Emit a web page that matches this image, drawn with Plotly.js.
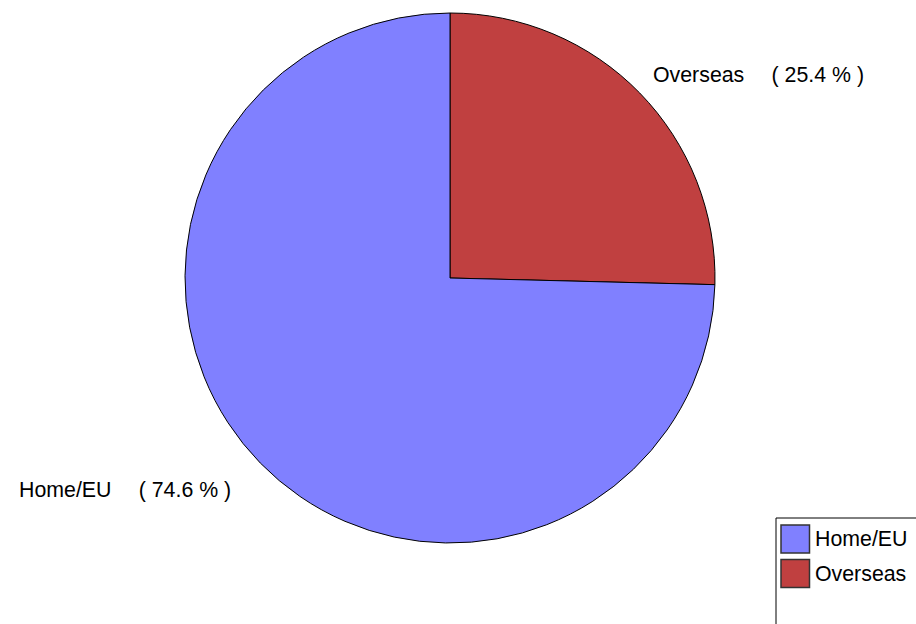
<!DOCTYPE html>
<html>
<head>
<meta charset="utf-8">
<script src="https://cdn.plot.ly/plotly-3.0.1.min.js"></script>
<style>html,body{margin:0;padding:0;background:#fff;}#chart{width:916px;height:624px;}</style>
</head>
<body>
<div id="chart"></div>
<script>
const labels = ['Home/EU', 'Overseas'];
const values = [74.6, 25.4];
const colors = ['#8080FF', '#C04040'];

const W = 916, H = 624;
const px = x => x / W;
const py = y => 1 - y / H;
const FONT = 'Liberation Sans, Arial, sans-serif';
const FS = 21.33;

const total = values.reduce((a, b) => a + b, 0);
const pct = values.map(v => (100 * v / total).toFixed(1));
const sp = '\u00a0\u00a0\u00a0\u00a0\u2006';

// label anchor spots (left edge, vertical centre) in pixels
const labelPos = [[17, 490], [651, 75]];

const annotations = labels.map((l, i) => ({
  text: l + sp + '(\u00a0' + pct[i] + '\u00a0%\u00a0)',
  xref: 'paper', yref: 'paper',
  x: px(labelPos[i][0]), y: py(labelPos[i][1]),
  xanchor: 'left', yanchor: 'middle', showarrow: false,
  font: {family: FONT, size: FS, color: '#000'}
}));

const shapes = [{
  type: 'rect', xref: 'paper', yref: 'paper',
  x0: px(776), x1: px(925), y0: py(518), y1: py(635),
  line: {color: '#000', width: 1}, fillcolor: 'rgba(0,0,0,0)'
}];
labels.forEach((l, i) => {
  const top = 525 + i * 34.5;
  shapes.push({
    type: 'rect', xref: 'paper', yref: 'paper',
    x0: px(781), x1: px(809.5), y0: py(top), y1: py(top + 28),
    line: {color: '#333', width: 1.5}, fillcolor: colors[i]
  });
  annotations.push({
    text: l, xref: 'paper', yref: 'paper',
    x: px(813), y: py(top + 14), xanchor: 'left', yanchor: 'middle',
    showarrow: false, font: {family: FONT, size: FS, color: '#000'}
  });
});

const cx = 450, cy = 278, r = 265;

// drawing order: Overseas starts at 12 o'clock going clockwise
const order = [1, 0];

Plotly.newPlot('chart', [{
  type: 'pie',
  labels: order.map(i => labels[i]),
  values: order.map(i => values[i]),
  marker: {colors: order.map(i => colors[i]), line: {color: '#000', width: 1}},
  sort: false,
  direction: 'clockwise',
  rotation: 0,
  textinfo: 'none',
  hoverinfo: 'label+percent',
  domain: {x: [px(cx - r), px(cx + r)], y: [py(cy + r), py(cy - r)]},
  showlegend: false
}], {
  width: W, height: H,
  margin: {l: 0, r: 0, t: 0, b: 0},
  paper_bgcolor: '#fff',
  showlegend: false,
  annotations: annotations,
  shapes: shapes
}, {displayModeBar: false, staticPlot: true});
</script>
</body>
</html>
